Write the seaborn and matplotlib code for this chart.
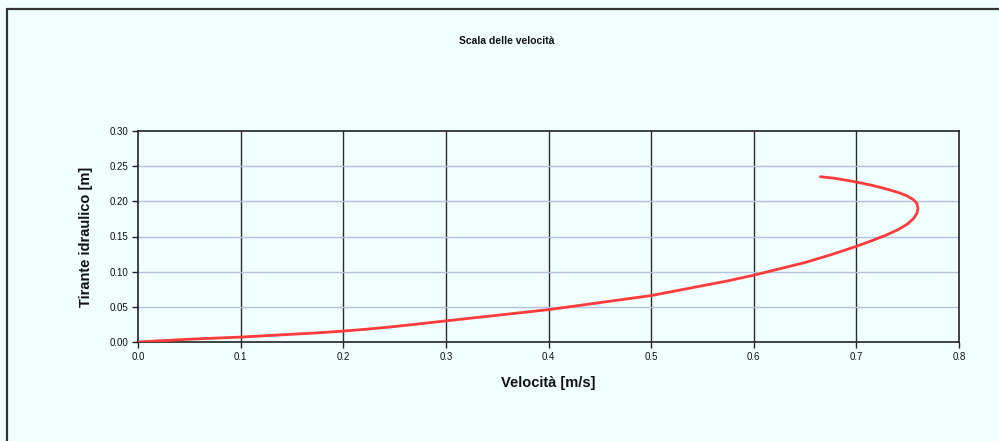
import matplotlib
matplotlib.use("Agg")
import matplotlib.pyplot as plt
from matplotlib.lines import Line2D
import seaborn as sns
import pandas as pd

# ---- data ----
depth_m = [0.000, 0.002, 0.004, 0.0055, 0.007, 0.009, 0.011, 0.013, 0.0155, 0.0185,
           0.022, 0.026, 0.030, 0.034, 0.038, 0.042, 0.046, 0.051, 0.056, 0.061,
           0.066, 0.073, 0.080, 0.087, 0.095, 0.104, 0.113, 0.124, 0.136, 0.144,
           0.152, 0.160, 0.168, 0.176, 0.183, 0.190, 0.197, 0.203, 0.208, 0.212,
           0.216, 0.220, 0.2235, 0.2265, 0.229, 0.231, 0.233, 0.234, 0.235]
velocity_ms = [0.000, 0.025, 0.050, 0.075, 0.100, 0.125, 0.150, 0.175, 0.200, 0.225,
               0.250, 0.275, 0.300, 0.325, 0.350, 0.375, 0.400, 0.425, 0.450, 0.475,
               0.500, 0.525, 0.550, 0.575, 0.600, 0.625, 0.650, 0.675, 0.700, 0.715,
               0.729, 0.741, 0.750, 0.756, 0.759, 0.760, 0.759, 0.755, 0.749, 0.742,
               0.733, 0.723, 0.713, 0.703, 0.694, 0.686, 0.678, 0.671, 0.665]
x_ticks = [0.0, 0.1, 0.2, 0.3, 0.4, 0.5, 0.6, 0.7, 0.8]
y_ticks = [0.00, 0.05, 0.10, 0.15, 0.20, 0.25, 0.30]
title_text = "Scala delle velocità"
x_label = "Velocità [m/s]"
y_label = "Tirante idraulico [m]"

df = pd.DataFrame({"v": velocity_ms, "h": depth_m})

BG = "#F0FFFF"
sns.set_theme(style="white")
plt.rcParams["font.family"] = ["Liberation Sans", "DejaVu Sans"]

fig = plt.figure(figsize=(9.99, 4.41), dpi=100, facecolor=BG)
ax = fig.add_axes([138 / 999, 1 - 342 / 441, (959 - 138) / 999, (342 - 131) / 441])
ax.set_facecolor(BG)

sns.lineplot(data=df, x="v", y="h", sort=False, estimator=None,
             color="#FF3B3B", linewidth=2.0, ax=ax, zorder=3)

ax.set_xlim(0, 0.8)
ax.set_ylim(0, 0.30)
ax.set_xticks(x_ticks)
ax.set_yticks(y_ticks)
ax.set_xticklabels([f"{t:.1f}" for t in x_ticks])
ax.set_yticklabels([f"{t:.2f}" for t in y_ticks])
ax.tick_params(axis="both", which="both", direction="out", length=4, width=1,
               color="#222222", labelsize=7, labelcolor="#111111", pad=3,
               bottom=True, left=True)

for t in x_ticks[1:-1]:
    ax.axvline(t, color="#2b2b2b", linewidth=1.0, zorder=1)
for t in y_ticks[1:-1]:
    ax.axhline(t, color="#B4C0E0", linewidth=1.0, zorder=1)

for s in ax.spines.values():
    s.set_visible(True)
    s.set_color("#222222")
    s.set_linewidth(1.2)

ax.set_xlabel(x_label, fontsize=10.5, fontweight="bold", color="#111111", labelpad=10)
ax.set_ylabel(y_label, fontsize=10.5, fontweight="bold", color="#111111", labelpad=12)

fig.text(507 / 999, 1 - 41 / 441, title_text, ha="center", va="center",
         fontsize=7.5, fontweight="bold", color="#111111")

# outer chart frame (left and top edges visible)
fig.add_artist(Line2D([7 / 999, 7 / 999], [0, 1 - 9 / 441], transform=fig.transFigure,
                      color="#333333", linewidth=1.6))
fig.add_artist(Line2D([7 / 999, 1], [1 - 9 / 441, 1 - 9 / 441], transform=fig.transFigure,
                      color="#333333", linewidth=1.6))

fig.savefig("out.png", dpi=100, facecolor=BG)
